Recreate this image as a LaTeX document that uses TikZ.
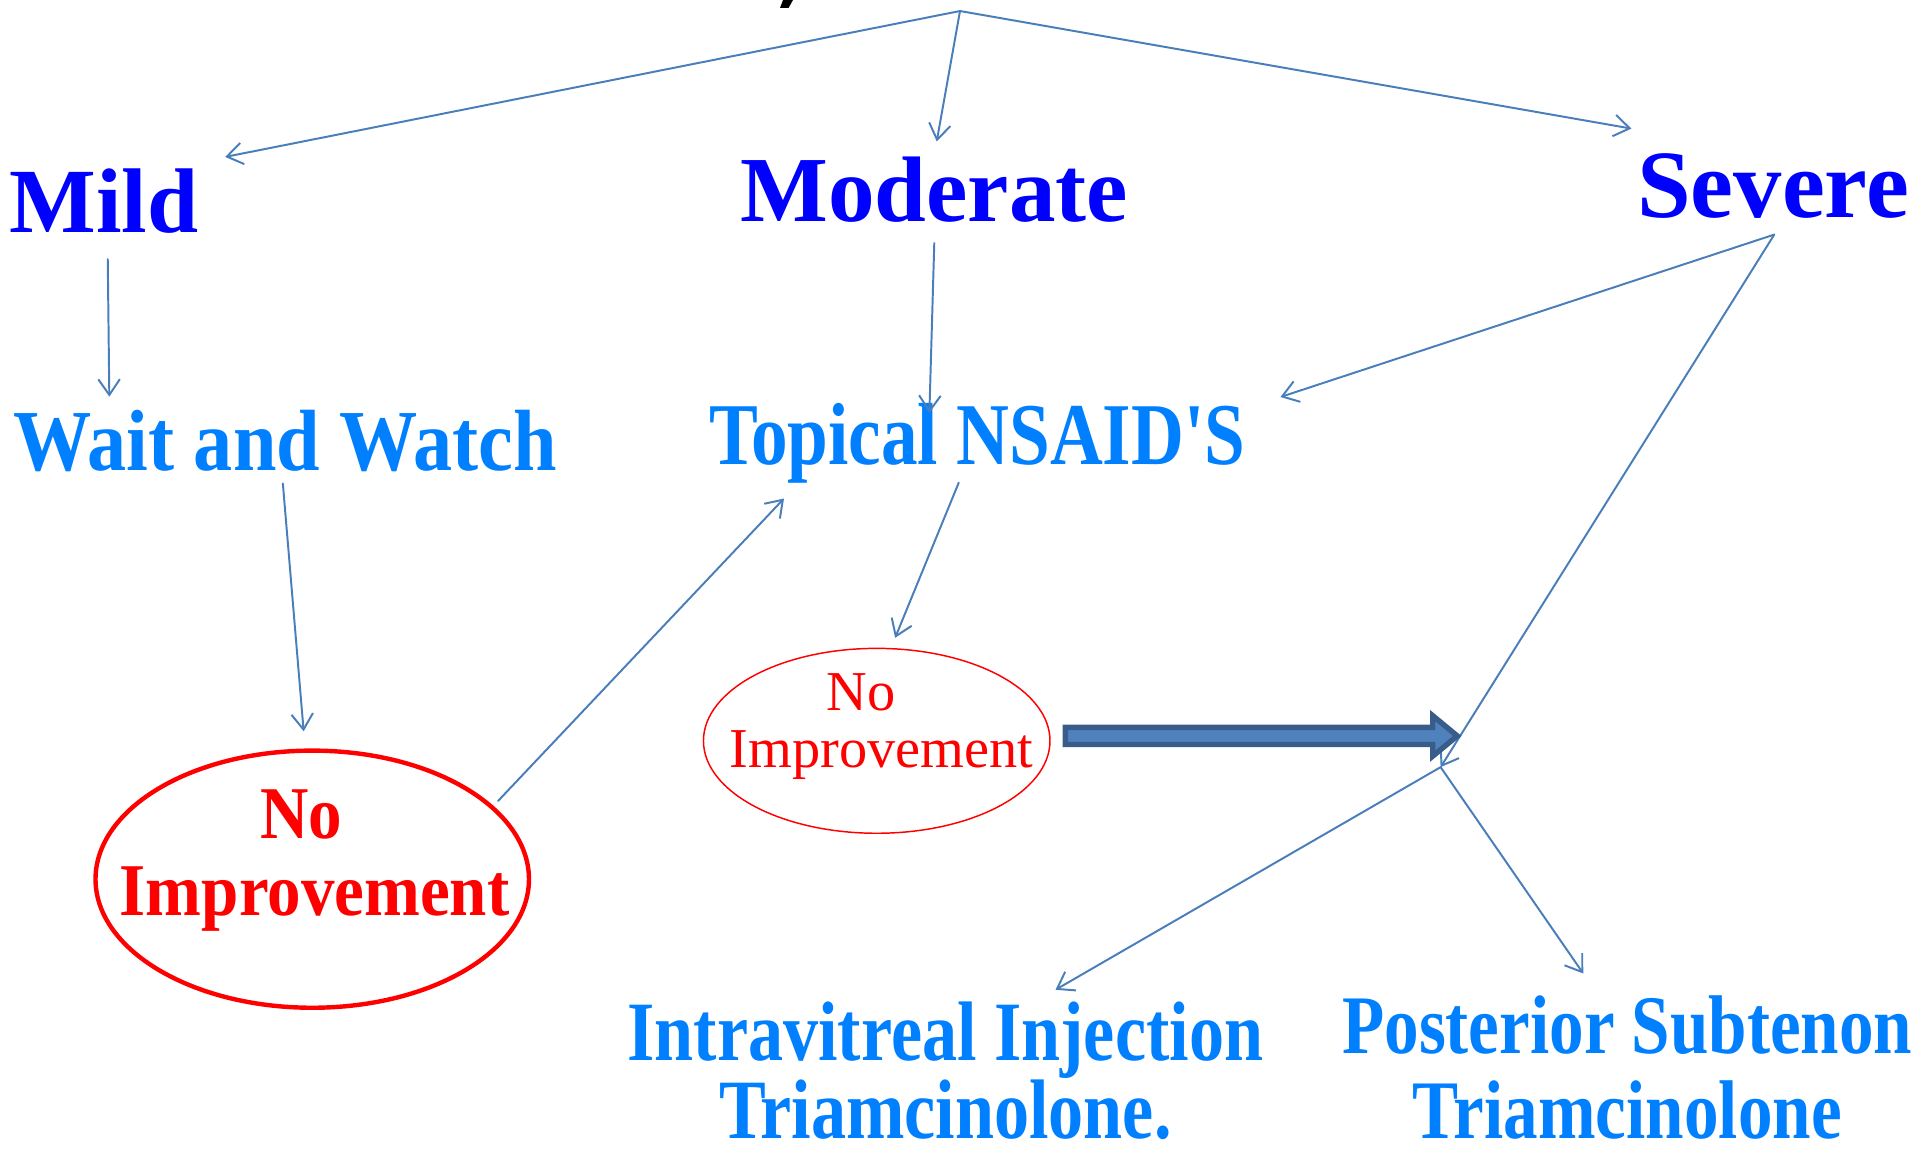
\documentclass[tikz,border=0pt]{standalone}
\usepackage{fontspec}
\setmainfont{Liberation Serif}
\newfontfamily\narrowserif[FakeStretch=0.83]{Liberation Serif}
\newfontfamily\semiserif[FakeStretch=0.9]{Liberation Serif}
\usetikzlibrary{arrows.meta,shapes.geometric}

\definecolor{gradeblue}{RGB}{0,0,255}
\definecolor{stepblue}{RGB}{0,128,255}
\definecolor{linkblue}{RGB}{74,126,187}
\definecolor{fatfill}{RGB}{79,129,189}
\definecolor{fatedge}{RGB}{56,93,138}

\begin{document}
\begin{tikzpicture}[x=0.25pt, y=-0.25pt, line join=round, line cap=round,
	grade/.style={inner sep=0, anchor=base, text=gradeblue},
	stepnode/.style={inner sep=0, anchor=base, text=stepblue, align=center},
	noimp/.style={draw=red, ellipse, inner sep=0},
	noimptxt/.style={inner sep=0, anchor=base, text=red, align=center},
	link/.style={draw=linkblue, line width=0.4pt, -{Straight Barb[length=3.2pt,width=4.4pt]}},
	fatarrow/.style={fill=fatfill, draw=fatedge, line width=1.1pt, line join=miter}]
	\useasboundingbox (0,0) rectangle (1568,942);
	% cut title glyph at the top
	\fill (639.5,0) -- (647.6,0) -- (644,6.5) -- (637,6.5) -- cycle;
	\coordinate (apex) at (784,9);
	\coordinate (jn) at (1176.5,626.5);
	% grades
	\node[grade, font=\fontsize{18.75}{20}\selectfont\bfseries] (mild) at (85,190) {Mild};
	\node[grade, font=\fontsize{19}{20}\selectfont\bfseries] (moderate) at (763,181) {Moderate};
	\node[grade, font=\fontsize{19.7}{20}\selectfont\bfseries] (severe) at (1448,178) {Severe};
	% treatment steps
	\node[stepnode, font=\fontsize{17.75}{20}\semiserif\bfseries] (wait) at (233,384) {Wait and Watch};
	\node[stepnode, font=\fontsize{18}{20}\narrowserif\bfseries] (topical) at (798,379) {Topical NSAID'S};
	\node[noimp, line width=0.9pt, minimum width=88.5pt, minimum height=52.5pt] (noimpA) at (255,718) {};
	\node[noimptxt, font=\fontsize{15.2}{15.75}\semiserif\bfseries] (noimpAtxt) at (257,748) {No\hspace*{5.5pt}\\Improvement};
	\node[noimp, line width=0.3pt, minimum width=70.75pt, minimum height=37.75pt] (noimpB) at (716,605) {};
	\node[noimptxt, font=\fontsize{11.5}{11.75}\selectfont] (noimpBtxt) at (720,627) {No\hspace*{8.5pt}\\Improvement};
	\node[stepnode, font=\fontsize{17.25}{16}\narrowserif\bfseries] (intra) at (772,930) {Intravitreal Injection\\Triamcinolone.};
	\node[stepnode, font=\fontsize{17}{17.5}\narrowserif\bfseries] (post) at (1329,930) {Posterior Subtenon\\Triamcinolone};
	% connectors
	\draw[link] (apex) -- ([shift={(21,-9)}]mild.north east);
	\draw[link] (apex) -- ([shift={(2,-12)}]moderate.north);
	\draw[link] (apex) -- ([shift={(-4,-20)}]severe.north west);
	\draw[link] ([shift={(3,20)}]mild.south) -- ([shift={(79,-10)}]wait.north west);
	\draw[link] ([shift={(-2,9)}]wait.south) -- ([shift={(-7,-14)}]noimpA.north);
	\draw[link] ([shift={(6,-2)}]noimpA.23) -- ([shift={(62,12)}]topical.south west);
	\draw[link] ([shift={(0,16)}]moderate.south) -- ([shift={(-39,9)}]topical.north);
	\draw[link] ([shift={(1,12)}]severe.south) -- ([shift={(28,-4)}]topical.north east);
	\draw[link] ([shift={(1,12)}]severe.south) -- (jn);
	\draw[link] ([shift={(-15,-1)}]topical.south) -- ([shift={(15,-8)}]noimpB.north);
	\draw[link] (jn) -- ([shift={(90,-9)}]intra.north);
	\draw[link] (jn) -- ([shift={(-36,-17)}]post.north);
	% fat arrow to the severe branch
	\draw[fatarrow] ([shift={(12,-11)}]noimpB.east) -- ++(300,0) -- ++(0,-9.5) -- ++(20,16.5)
		-- ++(-20,16.5) -- ++(0,-9.5) -- ++(-300,0) -- cycle;
\end{tikzpicture}
\end{document}
